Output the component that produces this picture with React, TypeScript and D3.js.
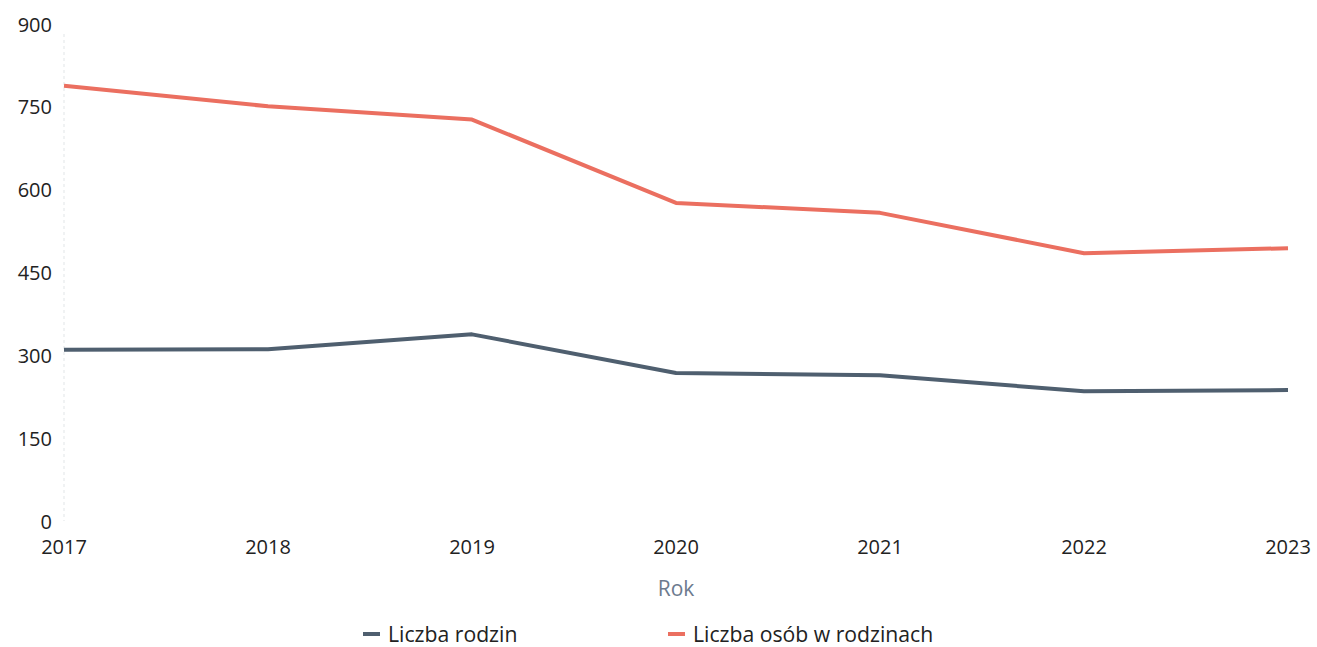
import React from "react";
import * as d3 from "d3";

const years = [2017, 2018, 2019, 2020, 2021, 2022, 2023];
const families = [310, 311, 338, 268, 264, 235, 237];
const persons = [788, 751, 727, 576, 558, 485, 494];
const yTicks = [0, 150, 300, 450, 600, 750, 900];
const seriesNames = ["Liczba rodzin", "Liczba osób w rodzinach"];
const seriesColors = ["#4f5f6f", "#eb6f60"];

const W = 1317;
const H = 647;
const FONT = "'Open Sans', 'Noto Sans', sans-serif";

export default function App() {
  const x = d3.scalePoint<number>().domain(years).range([64, 1288]);
  const y = d3.scaleLinear().domain([0, 900]).range([521, 24]);
  const line = d3
    .line<number>()
    .x((_, i) => x(years[i]) as number)
    .y((d) => y(d));
  const series = [families, persons];

  return (
    <svg
      width={W}
      height={H}
      style={{ position: "absolute", left: 0, top: 0, background: "#fff" }}
      fontFamily={FONT}
    >
      <line
        x1={64}
        x2={64}
        y1={y(900) + 10}
        y2={y(0)}
        stroke="#eceef0"
        strokeWidth={1.5}
        strokeDasharray="3 3"
      />
      {yTicks.map((t) => (
        <text
          key={t}
          x={52}
          y={y(t)}
          textAnchor="end"
          dominantBaseline="central"
          fontSize={20}
          fill="#222"
        >
          {t}
        </text>
      ))}
      {years.map((yr) => (
        <text
          key={yr}
          x={x(yr) as number}
          y={546}
          textAnchor="middle"
          dominantBaseline="central"
          fontSize={20}
          fill="#222"
        >
          {yr}
        </text>
      ))}
      <text
        x={676}
        y={588}
        textAnchor="middle"
        dominantBaseline="central"
        fontSize={21}
        fill="#6c7a8e"
      >
        Rok
      </text>
      {series.map((s, i) => (
        <path
          key={i}
          d={line(s) ?? ""}
          fill="none"
          stroke={seriesColors[i]}
          strokeWidth={4}
          strokeLinejoin="round"
        />
      ))}
      {seriesNames.map((name, i) => {
        const lx = i === 0 ? 363 : 668;
        return (
          <g key={name}>
            <line
              x1={lx}
              x2={lx + 17}
              y1={634}
              y2={634}
              stroke={seriesColors[i]}
              strokeWidth={4}
            />
            <text
              x={lx + 25}
              y={633}
              dominantBaseline="central"
              fontSize={21.2}
              fill="#222"
            >
              {name}
            </text>
          </g>
        );
      })}
    </svg>
  );
}
